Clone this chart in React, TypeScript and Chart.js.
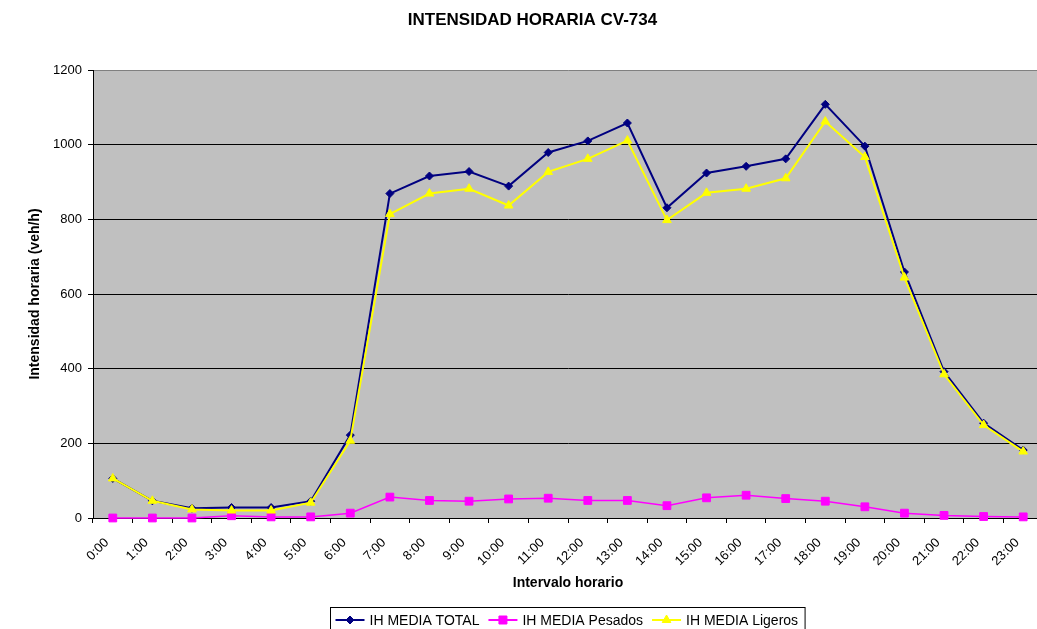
import React, { useEffect, useRef } from 'react';
import { Chart, registerables } from 'chart.js';

Chart.register(...registerables);

const hours = [
  '0:00', '1:00', '2:00', '3:00', '4:00', '5:00', '6:00', '7:00', '8:00', '9:00', '10:00', '11:00',
  '12:00', '13:00', '14:00', '15:00', '16:00', '17:00', '18:00', '19:00', '20:00', '21:00', '22:00', '23:00',
];
const totalValues = [106, 46, 26, 28, 28, 45, 222, 869, 916, 928, 889, 979, 1010, 1058, 831, 924, 942, 962, 1108, 996, 659, 392, 254, 182];
const pesadosValues = [0, 0, 0, 6, 3, 3, 13, 56, 47, 45, 51, 53, 47, 47, 33, 54, 61, 52, 45, 30, 13, 7, 4, 3];
const ligerosValues = [106, 46, 23, 20, 20, 41, 207, 814, 869, 882, 837, 927, 962, 1011, 798, 871, 882, 910, 1062, 967, 644, 385, 249, 178];
const yMin = 0;
const yMax = 1200;
const yStep = 200;

const seriesLabels = ['IH MEDIA TOTAL', 'IH MEDIA Pesados', 'IH MEDIA Ligeros'];
const seriesColors = ['#000080', '#FF00FF', '#FFFF00'];
const seriesMarkers = ['rectRot', 'rect', 'triangle'];

const FONT = "'Liberation Sans', Arial, Helvetica, sans-serif";
const CANVAS_W = 1065;
const CANVAS_H = 640;

function drawMarker(ctx: CanvasRenderingContext2D, style: string, x: number, y: number, color: string) {
  ctx.save();
  ctx.fillStyle = color;
  ctx.strokeStyle = color;
  ctx.lineWidth = 1;
  ctx.beginPath();
  if (style === 'rectRot') {
    const r = 4;
    ctx.moveTo(x, y - r);
    ctx.lineTo(x + r, y);
    ctx.lineTo(x, y + r);
    ctx.lineTo(x - r, y);
    ctx.closePath();
  } else if (style === 'rect') {
    const s = 4;
    ctx.rect(x - s, y - s, 2 * s, 2 * s);
  } else {
    const r = 5;
    ctx.moveTo(x, y - r);
    ctx.lineTo(x + r * 0.866, y + r * 0.5);
    ctx.lineTo(x - r * 0.866, y + r * 0.5);
    ctx.closePath();
  }
  ctx.fill();
  ctx.stroke();
  ctx.restore();
}

export default function App() {
  const ref = useRef<HTMLCanvasElement>(null);

  useEffect(() => {
    const canvas = ref.current;
    if (!canvas) return;

    const plotBg = {
      id: 'plotBg',
      beforeDraw(chart: any) {
        const { ctx, chartArea: a } = chart;
        ctx.save();
        ctx.fillStyle = '#C0C0C0';
        ctx.fillRect(a.left, a.top, a.right - a.left, a.bottom - a.top);
        ctx.restore();
      },
    };

    const legendBox = {
      id: 'legendBox',
      afterDraw(chart: any) {
        const { ctx, chartArea } = chart;
        ctx.save();
        ctx.font = `14px ${FONT}`;
        const pad = 5;
        const lineLen = 29;
        const gap = 5;
        const itemGap = 9;
        const items = chart.data.datasets.map((ds: any, i: number) => ({
          label: ds.label as string,
          color: seriesColors[i],
          style: seriesMarkers[i],
          w: ctx.measureText(ds.label).width,
        }));
        let total = pad * 2 + itemGap * (items.length - 1);
        items.forEach((it: any) => { total += lineLen + gap + it.w; });
        const cx = (chartArea.left + chartArea.right) / 2;
        const left = Math.round(cx - total / 2) - 1.5;
        const top = chart.height - 32.5;
        const cy = top + 12.5;
        ctx.strokeStyle = '#000';
        ctx.lineWidth = 1;
        ctx.fillStyle = '#FFFFFF';
        ctx.fillRect(left, top, total + 2, 26);
        ctx.strokeRect(left, top, total + 2, 26);
        let x = left + pad;
        items.forEach((it: any) => {
          ctx.strokeStyle = it.color;
          ctx.lineWidth = 2;
          ctx.beginPath();
          ctx.moveTo(x, cy);
          ctx.lineTo(x + lineLen, cy);
          ctx.stroke();
          drawMarker(ctx, it.style, x + lineLen / 2, cy, it.color);
          ctx.fillStyle = '#000';
          ctx.textBaseline = 'middle';
          ctx.textAlign = 'left';
          ctx.fillText(it.label, x + lineLen + gap, cy + 1);
          x += lineLen + gap + it.w + itemGap;
        });
        ctx.restore();
      },
    };

    const chart = new Chart(canvas, {
      type: 'line',
      data: {
        labels: hours,
        datasets: [
          {
            label: seriesLabels[0],
            data: totalValues,
            borderColor: seriesColors[0],
            backgroundColor: seriesColors[0],
            pointStyle: 'rectRot',
            pointRadius: 4,
            pointBorderWidth: 1,
            borderWidth: 2,
            tension: 0,
            clip: false,
            order: 2,
          },
          {
            label: seriesLabels[1],
            data: pesadosValues,
            borderColor: seriesColors[1],
            backgroundColor: seriesColors[1],
            pointStyle: 'rect',
            pointRadius: 5.5,
            pointBorderWidth: 1,
            borderWidth: 1.5,
            tension: 0,
            clip: false,
            order: 1,
          },
          {
            label: seriesLabels[2],
            data: ligerosValues,
            borderColor: seriesColors[2],
            backgroundColor: seriesColors[2],
            pointStyle: 'triangle',
            pointRadius: 5,
            pointBorderWidth: 1,
            borderWidth: 2,
            tension: 0,
            clip: false,
            order: 0,
          },
        ],
      },
      options: {
        responsive: false,
        animation: false,
        devicePixelRatio: 1,
        layout: { padding: { left: 0, right: 0, top: 0, bottom: 0 } },
        plugins: {
          legend: { display: false },
          tooltip: { enabled: false },
          title: {
            display: true,
            text: 'INTENSIDAD HORARIA CV-734',
            color: '#000',
            font: { family: FONT, size: 17, weight: 'bold' },
            padding: { top: 10, bottom: 39.6 },
          },
        },
        scales: {
          x: {
            type: 'category',
            offset: true,
            grid: { offset: true, drawOnChartArea: false, tickLength: 5, color: '#000', tickColor: '#000' },
            border: { color: '#000', width: 1 },
            ticks: {
              color: '#000',
              font: { family: FONT, size: 13 },
              minRotation: 45,
              maxRotation: 45,
              autoSkip: false,
              padding: 12,
              labelOffset: -6,
            },
            title: {
              display: true,
              text: 'Intervalo horario',
              color: '#000',
              font: { family: FONT, size: 14, weight: 'bold' },
              padding: { top: 0, bottom: 48 },
            },
            afterFit(s: any) { s.height = 122; },
          },
          y: {
            min: yMin,
            max: yMax,
            ticks: {
              stepSize: yStep,
              color: '#000',
              font: { family: FONT, size: 13 },
              padding: 6,
              callback: (v: any) => String(v),
            },
            grid: {
              color: (c: any) => (c.tick && c.tick.value === yMax ? '#808080' : '#000'),
              tickColor: '#000',
              tickLength: 5,
            },
            border: { color: '#000', width: 1 },
            title: {
              display: true,
              text: 'Intensidad horaria (veh/h)',
              color: '#000',
              font: { family: FONT, size: 14, weight: 'bold' },
              padding: { top: 27, bottom: 0 },
            },
            afterFit(s: any) { s.width = 93; },
          },
          yRight: {
            position: 'right',
            min: yMin,
            max: yMax,
            grid: { display: false, drawOnChartArea: false },
            border: { display: false },
            ticks: { display: false },
            afterFit(s: any) { s.width = 22; },
          },
        },
      },
      plugins: [plotBg, legendBox],
    } as any);

    return () => chart.destroy();
  }, []);

  return (
    <div style={{ position: 'absolute', left: 0, top: 0, width: 1037, height: 629, overflow: 'hidden', background: '#fff' }}>
      <canvas ref={ref} width={CANVAS_W} height={CANVAS_H} style={{ width: CANVAS_W, height: CANVAS_H, display: 'block' }} />
    </div>
  );
}
